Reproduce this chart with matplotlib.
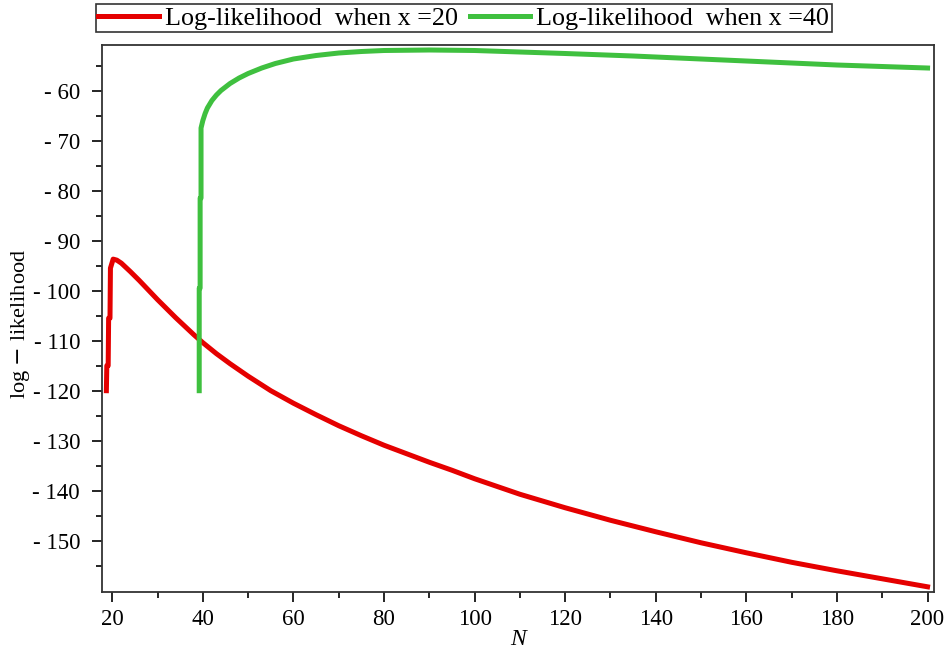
import matplotlib.pyplot as plt
from matplotlib.ticker import FixedLocator, MultipleLocator, FuncFormatter

# log-likelihood read at sample sizes N, for x = 20 and x = 40
n_x20 = [18.7, 18.8, 19.1, 19.2, 19.5, 19.6, 20.2, 21, 22, 24, 26, 28, 30, 32, 34,
         36, 38, 40, 43, 46, 50, 55, 60, 65, 70, 75, 80, 85, 90, 95, 100, 110,
         120, 130, 140, 150, 160, 170, 180, 190, 200]
ll_x20 = [-120, -115, -115, -105.5, -105.5, -95.5, -93.7, -93.9, -94.5, -96.2,
          -98.0, -99.9, -101.8, -103.6, -105.4, -107.1, -108.8, -110.4, -112.6,
          -114.6, -117.1, -120.0, -122.5, -124.8, -127.0, -129.0, -130.9, -132.6,
          -134.3, -135.9, -137.6, -140.7, -143.4, -145.9, -148.2, -150.4, -152.4,
          -154.3, -156.0, -157.6, -159.2]

n_x40 = [39.2, 39.2, 39.4, 39.4, 39.6, 39.6, 40, 40.5, 41, 42, 43, 44, 46, 48,
         50, 53, 56, 60, 65, 70, 75, 80, 90, 100, 110, 120, 135, 150, 170, 180,
         190, 200]
ll_x40 = [-120, -99.5, -99.5, -81.5, -81.5, -67.5, -66.0, -64.6, -63.5, -62.0,
          -60.9, -60.0, -58.6, -57.5, -56.6, -55.5, -54.6, -53.7, -53.0, -52.5,
          -52.2, -52.0, -51.9, -52.0, -52.3, -52.6, -53.1, -53.7, -54.5, -54.9,
          -55.2, -55.5]

labels = ["Log-likelihood  when x =20", "Log-likelihood  when x =40"]

plt.rcParams["font.family"] = ["Liberation Serif", "DejaVu Serif"]
plt.rcParams["axes.unicode_minus"] = False

fig = plt.figure(figsize=(9.48, 6.55), dpi=100)
ax = fig.add_axes([0.1079, 0.0957, 0.8777, 0.8356])

l1, = ax.plot(n_x20, ll_x20, color="#e50000", lw=3.6)
l2, = ax.plot(n_x40, ll_x40, color="#3fc03f", lw=3.6)

ax.set_xlim(17.8, 201.5)
ax.set_ylim(-160.3, -50.9)

ax.xaxis.set_major_locator(MultipleLocator(20))
ax.xaxis.set_minor_locator(MultipleLocator(10))
ax.yaxis.set_major_locator(FixedLocator(range(-150, -59, 10)))
ax.yaxis.set_minor_locator(FixedLocator(range(-155, -54, 10)))
ax.yaxis.set_major_formatter(FuncFormatter(lambda v, p: f"- {abs(int(v))}" if v < 0 else f"{int(v)}"))

ax.tick_params(which="major", direction="out", length=7, width=1.2, labelsize=16.5, pad=5)
ax.tick_params(axis="y", which="major", pad=9)
ax.tick_params(which="minor", direction="out", length=4.5, width=1.2)
ax.tick_params(top=False, right=False)
for s in ax.spines.values():
    s.set_linewidth(1.3)
    s.set_color("#333333")

ax.set_xlabel("N", style="italic", fontsize=17, labelpad=-1)
ax.set_ylabel("log $-$ likelihood", fontsize=16)
ax.yaxis.set_label_coords(-0.085, 0.49)

leg = fig.legend([l1, l2], labels, loc="upper left", bbox_to_anchor=(0.097, 1.0),
                 ncol=2, fontsize=18.8, frameon=True, fancybox=False,
                 handlelength=2.3, handletextpad=0.25, columnspacing=0.45,
                 borderpad=0.1, borderaxespad=0.15)
leg.get_frame().set_edgecolor("black")
leg.get_frame().set_linewidth(1.2)

plt.savefig("out.png", dpi=100)
